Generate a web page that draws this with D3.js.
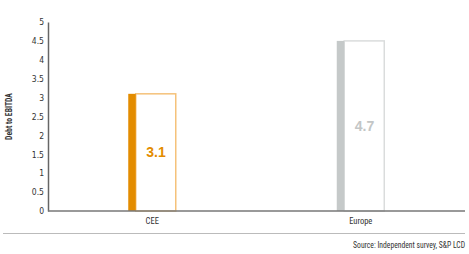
<!DOCTYPE html>
<html><head><meta charset="utf-8">
<script src="https://cdn.jsdelivr.net/npm/d3@7"></script>
<style>
body{margin:0;background:#fff;}
text{font-family:"Liberation Sans Narrow","Roboto Condensed","DejaVu Sans Condensed",sans-serif;}
</style></head>
<body><svg id="c" width="469" height="254"></svg>
<script>
const categories = ["CEE", "Europe"];
const barValues = [3.1, 4.5];
const labelValues = ["3.1", "4.7"];
const yTicks = [0, 0.5, 1, 1.5, 2, 2.5, 3, 3.5, 4, 4.5, 5];
const yTickLabels = ["0", "0.5", "1", "1.5", "2", "2.5", "3", "3.5", "4", "4.5", "5"];
const fillColors = ["#E38C00", "#C5C9C9"];
const outlineColors = ["#F5C27A", "#DADCDC"];
const labelColors = ["#E38C00", "#C3C6C6"];

const svg = d3.select("#c");
const m = {l:48, r:4, t:22, b:43};
const W = 469, H = 254;
const x = d3.scaleBand().domain(categories).range([m.l, W - m.r]).padding(0);
const y = d3.scaleLinear().domain([0, 5]).range([H - m.b, m.t]);

const barW = 48, stripW = 7.5;

function fitX(sel, target) {
  const len = sel.node().getComputedTextLength();
  return len > 0 ? target / len : 1;
}

const g = svg.append("g");
categories.forEach((c, i) => {
  const cx = x(c) + x.bandwidth() / 2;
  const x0 = cx - barW / 2;
  const yt = y(barValues[i]);
  g.append("rect").attr("x", x0 + stripW).attr("y", yt)
    .attr("width", barW - stripW - 0.5).attr("height", y(0) - yt)
    .attr("fill", "#fff").attr("stroke", outlineColors[i]).attr("stroke-width", 1.5);
  g.append("rect").attr("x", x0).attr("y", yt)
    .attr("width", stripW).attr("height", y(0) - yt)
    .attr("fill", fillColors[i]);
  g.append("text").attr("x", x0 + stripW + (barW - stripW) / 2).attr("y", (yt + y(0)) / 2 + 5)
    .attr("text-anchor", "middle")
    .style("font-family", "'Liberation Sans', Arial, sans-serif")
    .attr("font-weight", "bold").attr("font-size", 14).attr("fill", labelColors[i])
    .text(labelValues[i]);
  svg.append("text").attr("x", cx).attr("y", y(0) + 12.5).attr("text-anchor", "middle")
    .attr("font-size", 8.5).attr("fill", "#333").text(c);
});

// y axis
const ya = svg.append("g").attr("transform", `translate(${m.l},0)`)
  .call(d3.axisLeft(y).tickValues(yTicks).tickFormat((d, i) => yTickLabels[i]).tickSize(0).tickPadding(4));
ya.select(".domain").attr("stroke", "#666").attr("stroke-width", 1.5);
ya.selectAll("text").attr("font-size", 8.5).attr("fill", "#333")
  .style("font-family", "'Liberation Sans Narrow','DejaVu Sans Condensed',sans-serif");

// x axis line
svg.append("line").attr("x1", m.l).attr("x2", W - m.r).attr("y1", y(0)).attr("y2", y(0))
  .attr("stroke", "#777").attr("stroke-width", 1.5);

// y title
const yt = svg.append("text")
  .attr("text-anchor", "middle").attr("font-size", 9).attr("font-weight", "bold").attr("fill", "#333")
  .text("Debt to EBITDA");
const sy = fitX(yt, 47);
yt.attr("transform", `translate(12,${(y(0)+y(5))/2}) rotate(-90) scale(${sy},1)`);

// separator
svg.append("line").attr("x1", 3).attr("x2", W - 4).attr("y1", 233.5).attr("y2", 233.5)
  .attr("stroke", "#BBB").attr("stroke-width", 1);

const src = svg.append("text").attr("text-anchor", "end")
  .attr("font-size", 9.5).attr("fill", "#333")
  .text("Source: Independent survey, S&P LCD");
const ss = fitX(src, 112);
src.attr("transform", `translate(${W - 4},247.5) scale(${ss},1)`);
</script></body></html>
